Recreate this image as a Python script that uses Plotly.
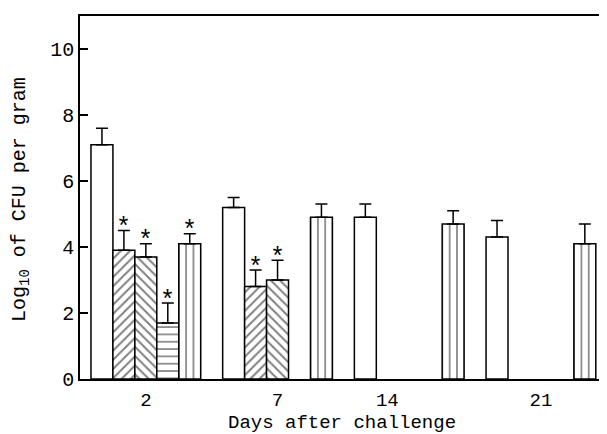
import plotly.graph_objects as go

# ---- data ----
days = ["2", "7", "14", "21"]
tick_slots = [2.5, 8.5, 13.5, 20.5]   # where the day labels sit under the groups

control = [7.1, 5.2, 4.9, 4.3]
control_err = [0.5, 0.3, 0.4, 0.5]

slash = [3.9, 2.8, None, None]
slash_err = [0.6, 0.5, None, None]
slash_sig = [True, True, False, False]

backslash = [3.7, 3.0, None, None]
backslash_err = [0.4, 0.6, None, None]
backslash_sig = [True, True, False, False]

horiz = [1.7, None, None, None]
horiz_err = [0.6, None, None, None]
horiz_sig = [True, False, False, False]

vert = [4.1, 4.9, 4.7, 4.1]
vert_err = [0.3, 0.4, 0.4, 0.6]
vert_sig = [True, False, False, False]

x_title = "Days after challenge"
y_title = "Log<sub>10</sub> of CFU per gram"

series = [
    (control, control_err, [False] * 4, ""),
    (slash, slash_err, slash_sig, "/"),
    (backslash, backslash_err, backslash_sig, "\\"),
    (horiz, horiz_err, horiz_sig, "-"),
    (vert, vert_err, vert_sig, "|"),
]

FONT = "Liberation Mono"
GROUP = 6
# the page body has an 8px margin, so the figure is drawn 8px in from the window edge
OFF = 8
PL, PT, PW, PH = 80 - OFF, 16 - OFF, 527, 363

fig = go.Figure()
annotations = []
for si, (vals, errs, sig, shape) in enumerate(series):
    xs, ys, es = [], [], []
    for gi, v in enumerate(vals):
        if v is None:
            continue
        x = gi * GROUP + si + 0.5
        xs.append(x)
        ys.append(v)
        es.append(errs[gi])
        if sig[gi]:
            annotations.append(dict(
                x=x, y=v + errs[gi], xref="x", yref="y", text="*",
                showarrow=False, yanchor="middle", yshift=2,
                font=dict(family=FONT, size=25, color="black")))
    pat = dict(shape=shape, fgcolor="black", bgcolor="white",
               size=7.32 if shape in ("|", "-") else 6.5,
               solidity=0.22 if shape in ("|", "-") else 0.3,
               fillmode="overlay") if shape else dict(shape="")
    fig.add_trace(go.Bar(
        x=xs, y=ys, width=1.0,
        marker=dict(color="white", line=dict(color="black", width=1.5), pattern=pat),
        error_y=dict(type="data", symmetric=False, array=es, arrayminus=[0] * len(es),
                     color="black", thickness=1.5, width=6),
        showlegend=False,
    ))

annotations.append(dict(
    text=x_title, xref="paper", yref="paper", x=(341.5 - 80) / PW, y=-(423 - 379) / PH,
    xanchor="center", yanchor="middle", showarrow=False,
    font=dict(family=FONT, size=19, color="black")))
annotations.append(dict(
    text=y_title, xref="paper", yref="paper", x=-(80 - 20) / PW, y=(379 - 200) / PH,
    xanchor="center", yanchor="middle", showarrow=False, textangle=-90,
    font=dict(family=FONT, size=20, color="black")))

fig.update_layout(
    width=607 - OFF, height=434 - OFF,
    margin=dict(l=PL, r=0, t=PT, b=434 - OFF - PT - PH),
    paper_bgcolor="white", plot_bgcolor="white",
    barmode="overlay",
    annotations=annotations,
    font=dict(family=FONT, color="black"),
)
fig.update_xaxes(
    range=[-0.5, 23.51], tickvals=tick_slots, ticktext=days,
    showline=True, linecolor="black", linewidth=1.5, mirror=True,
    ticks="", showgrid=False, zeroline=False, automargin=False,
    tickfont=dict(family=FONT, size=19), ticklabelstandoff=2,
)
fig.update_yaxes(
    range=[0, 11], tickvals=[0, 2, 4, 6, 8, 10],
    showline=True, linecolor="black", linewidth=1.5,
    ticks="inside", ticklen=8, tickwidth=1.5, tickcolor="black",
    showgrid=False, zeroline=False, automargin=False,
    tickfont=dict(family=FONT, size=20),
)

fig.write_html("out.html")
